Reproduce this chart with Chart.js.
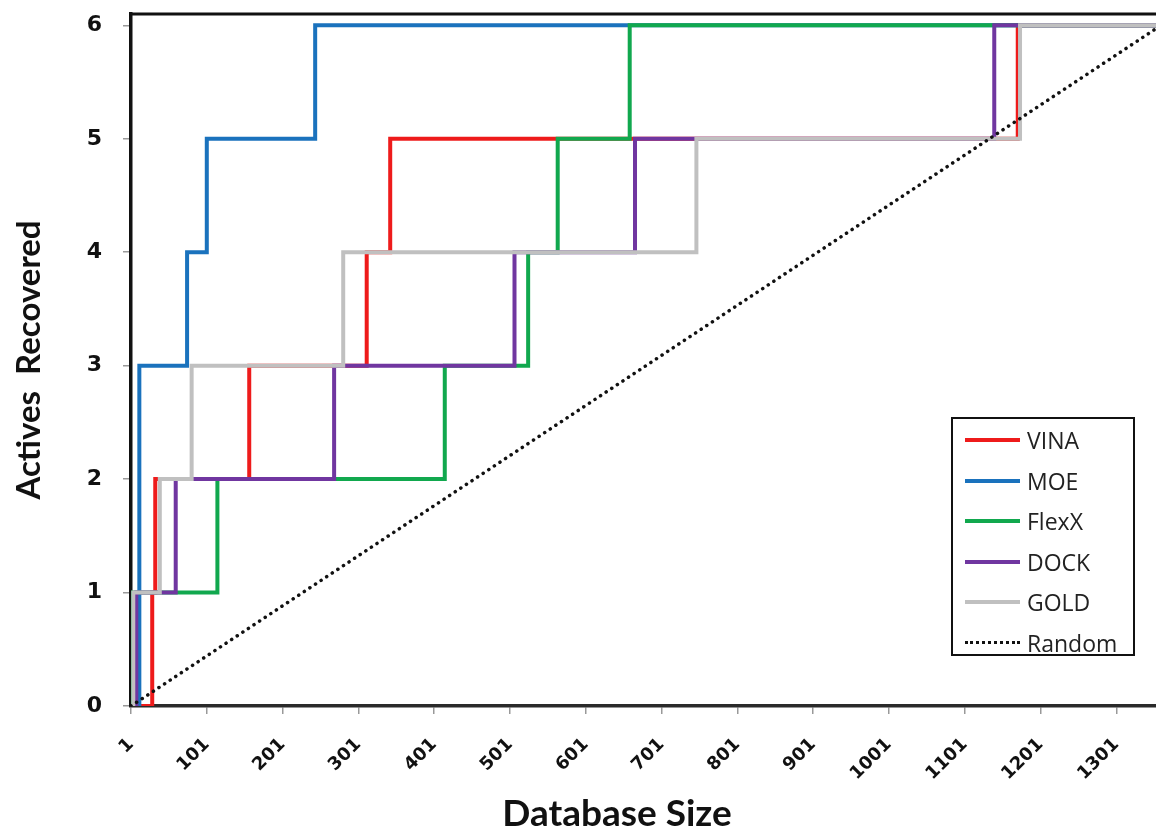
<!DOCTYPE html>
<html>
<head>
<meta charset="utf-8">
<title>Actives Recovered vs Database Size</title>
<script src="https://cdn.jsdelivr.net/npm/chart.js@4.4.1/dist/chart.umd.min.js"></script>
<style>
  html, body { margin: 0; padding: 0; background: #fff; }
  #wrap { position: relative; width: 1156px; height: 830px; overflow: hidden; }
  #legend {
    position: absolute; left: 951px; top: 417px; width: 184px; height: 239px;
    box-sizing: border-box; border: 2px solid #111; background: #fff;
    font-family: 'Open Sans', sans-serif; font-size: 23px; color: #222;
    padding-top: 1px;
  }
  #legend .item { display: flex; align-items: center; height: 40.5px; }
  #legend .swatch { display: inline-block; width: 55px; margin-left: 12px; margin-right: 7px; }
</style>
</head>
<body>
<div id="wrap">
  <canvas id="chart" width="1170" height="830"></canvas>
  <div id="legend"></div>
</div>
<script>
// Data (x = database rank where the count steps up, y = actives recovered)
const xMin = 1;
const xMax = 1360;
const xTickValues = [1, 101, 201, 301, 401, 501, 601, 701, 801, 901, 1001, 1101, 1201, 1301];
const yTickValues = [0, 1, 2, 3, 4, 5, 6];

const vinaX = [1, 29, 33, 157, 312, 343, 1171, 1360];
const vinaY = [0, 1, 2, 3, 4, 5, 6, 6];

const moeX = [1, 12, 75, 101, 244, 1360];
const moeY = [0, 3, 4, 5, 6, 6];

const flexxX = [1, 3, 115, 415, 525, 564, 659, 1360];
const flexxY = [0, 1, 2, 3, 4, 5, 6, 6];

const dockX = [1, 8, 60, 269, 507, 666, 1140, 1360];
const dockY = [0, 1, 2, 3, 4, 5, 6, 6];

const goldX = [1, 4, 39, 81, 281, 747, 1174, 1360];
const goldY = [0, 1, 2, 3, 4, 5, 6, 6];

const randomX = [1, 1360];
const randomY = [0, 6];

// Helpers
function toPoints(xs, ys) {
  return xs.map((x, i) => ({ x: x, y: ys[i] }));
}

// later series are painted over earlier ones, like the original
function stepSeries(label, xs, ys, color, order) {
  return {
    label: label,
    data: toPoints(xs, ys),
    borderColor: color,
    backgroundColor: color,
    borderWidth: 4,
    stepped: true,
    pointRadius: 0,
    fill: false,
    order: order
  };
}

// Top frame line of the plot area
const frameLine = {
  id: 'frameLine',
  afterDraw(chart) {
    const { ctx, chartArea } = chart;
    ctx.save();
    ctx.strokeStyle = '#111';
    ctx.lineWidth = 3;
    ctx.beginPath();
    ctx.moveTo(chartArea.left - 1.5, chartArea.top);
    ctx.lineTo(chartArea.right, chartArea.top);
    ctx.stroke();
    ctx.restore();
  }
};

// X axis title sits a bit left of centre in the original
const xTitle = {
  id: 'xTitle',
  afterDraw(chart) {
    const ctx = chart.ctx;
    ctx.save();
    ctx.font = 'bold 37px Lato, sans-serif';
    ctx.fillStyle = '#111';
    ctx.textAlign = 'center';
    ctx.textBaseline = 'alphabetic';
    ctx.fillText('Database Size', 617, 826);
    ctx.restore();
  }
};

const chart = new Chart(document.getElementById('chart'), {
  type: 'line',
  data: {
    datasets: [
      stepSeries('VINA', vinaX, vinaY, '#ee1b1b', 6),
      stepSeries('MOE', moeX, moeY, '#1a72bd', 5),
      stepSeries('FlexX', flexxX, flexxY, '#11a84e', 4),
      stepSeries('DOCK', dockX, dockY, '#7036a0', 3),
      stepSeries('GOLD', goldX, goldY, '#c0c0c0', 2),
      {
        label: 'Random',
        data: toPoints(randomX, randomY),
        borderColor: '#111',
        borderWidth: 3.5,
        borderDash: [0.1, 6.6],
        borderCapStyle: 'round',
        pointRadius: 0,
        fill: false,
        order: 1
      }
    ]
  },
  options: {
    responsive: false,
    animation: false,
    layout: { padding: { top: 14, right: 9, left: 0, bottom: 0 } },
    plugins: {
      legend: { display: false },
      tooltip: { enabled: false }
    },
    scales: {
      x: {
        type: 'linear',
        min: xMin,
        max: xMax,
        afterBuildTicks: (scale) => { scale.ticks = xTickValues.map(v => ({ value: v })); },
        afterFit: (scale) => { scale.height = 124; scale.paddingLeft = 0; scale.paddingRight = 0; },
        grid: { drawOnChartArea: false, tickLength: 8, color: '#999', lineWidth: 1.5 },
        border: { color: '#2a2a2a', width: 3.5 },
        ticks: {
          autoSkip: false,
          minRotation: 45,
          maxRotation: 45,
          padding: 20,
          color: '#111',
          font: { family: 'DejaVu Sans', size: 18, weight: 'bold' },
          callback: (v) => String(v)
        }
      },
      y: {
        min: 0,
        max: 6.1,
        afterBuildTicks: (scale) => { scale.ticks = yTickValues.map(v => ({ value: v })); },
        afterFit: (scale) => { scale.width = 131; scale.paddingTop = 0; scale.paddingBottom = 0; },
        grid: { drawOnChartArea: false, tickLength: 8, color: '#999', lineWidth: 1.5 },
        border: { color: '#111', width: 3.5 },
        ticks: {
          padding: 21,
          color: '#111',
          font: { family: 'DejaVu Sans', size: 22, weight: 'bold' }
        },
        title: {
          display: true,
          text: 'Actives  Recovered',
          color: '#111',
          padding: { top: 10, bottom: 0 },
          font: { family: 'Lato', size: 33, weight: 'bold' }
        }
      }
    }
  },
  plugins: [frameLine, xTitle]
});

// HTML legend built from the datasets
const legendEl = document.getElementById('legend');
chart.data.datasets.forEach(ds => {
  const row = document.createElement('div');
  row.className = 'item';
  const swatch = document.createElement('span');
  swatch.className = 'swatch';
  swatch.style.borderTop = ds.borderDash
    ? '3px dotted ' + ds.borderColor
    : '4px solid ' + ds.borderColor;
  const text = document.createElement('span');
  text.textContent = ds.label;
  row.appendChild(swatch);
  row.appendChild(text);
  legendEl.appendChild(row);
});
</script>
</body>
</html>
